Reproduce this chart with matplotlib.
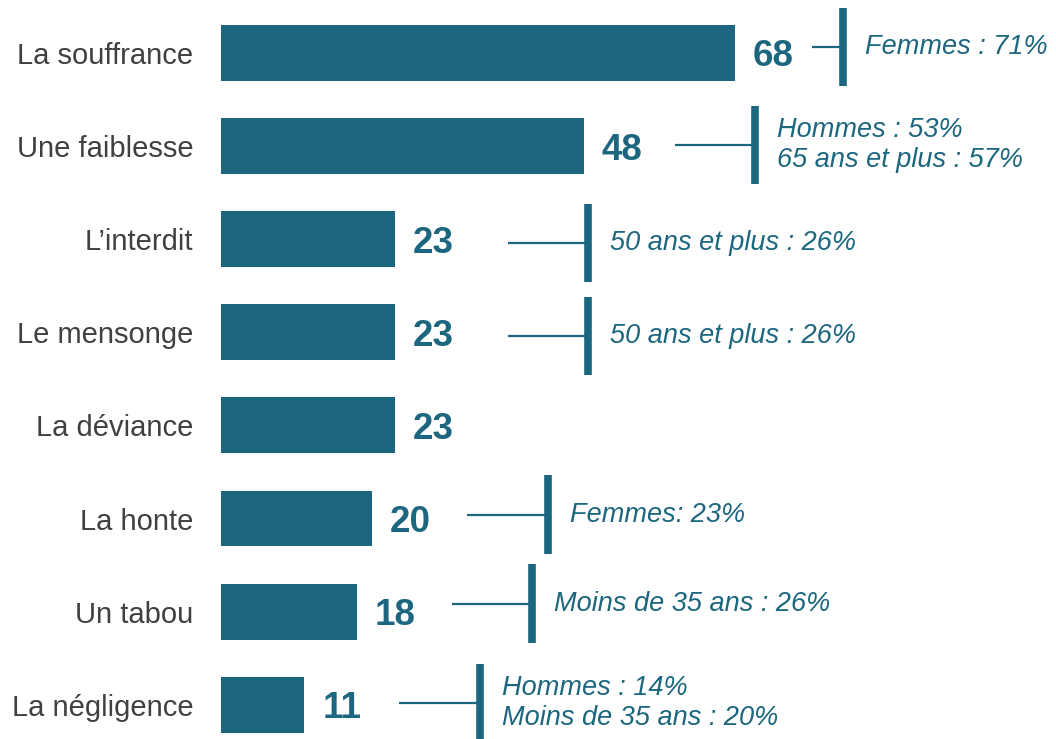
import matplotlib
matplotlib.use("Agg")
import matplotlib.pyplot as plt
from matplotlib import font_manager as fm

categories = ["La souffrance", "Une faiblesse", "L\u2019interdit", "Le mensonge",
              "La déviance", "La honte", "Un tabou", "La négligence"]
values = [68, 48, 23, 23, 23, 20, 18, 11]
notes = ["Femmes : 71%",
         "Hommes : 53%\n65 ans et plus : 57%",
         "50 ans et plus : 26%",
         "50 ans et plus : 26%",
         "",
         "Femmes: 23%",
         "Moins de 35 ans : 26%",
         "Hommes : 14%\nMoins de 35 ans : 20%"]

# layout (styling): gap from bar end to vertical marker, stub length (data units),
# and small vertical nudge of each note group (pixels)
note_gap = [14.3, 22.6, 25.5, 25.5, 0, 23.2, 23.2, 23.2]
stub_len = [4.1, 10.6, 10.6, 10.6, 0, 10.6, 10.6, 10.6]
note_dy = [-6, -1, 4, 4, 0, -4, -8, -2]

color = "#1C677F"
label_color = "#404040"
plt.rcParams["font.family"] = ["Liberation Sans", "DejaVu Sans"]


def find_font(weight, style):
    for f in fm.fontManager.ttflist:
        if (f.name == "Liberation Sans" and "Narrow" not in f.fname
                and f.style == style
                and (f.weight in ("bold", 700)) == (weight == "bold")):
            return fm.FontProperties(fname=f.fname)
    return fm.FontProperties(family="Liberation Sans", weight=weight, style=style)


bold_fp = find_font("bold", "normal")
ital_fp = find_font("normal", "italic")

W, H = 1056, 739
fig = plt.figure(figsize=(W / 100, H / 100), dpi=100)
ax = fig.add_axes([221 / W, 0, (W - 221) / W, 1])
px_per_unit = 7.56
step = 93.1
ax.set_xlim(0, (W - 221) / px_per_unit)
ax.set_ylim((H - 53) / step, -53 / step)

y = list(range(len(categories)))
ax.barh(y, values, height=0.6, color=color)

ax.set_yticks(y)
ax.set_yticklabels(categories, fontsize=21, color=label_color)
ax.tick_params(axis="y", length=0, pad=20)
ax.set_xticks([])
for s in ax.spines.values():
    s.set_visible(False)

for i, (v, note) in enumerate(zip(values, notes)):
    t = ax.annotate(str(v), (v, i), xytext=(18, 0), textcoords="offset pixels",
                    ha="left", va="center_baseline", color=color)
    t.set_fontproperties(bold_fp)
    t.set_fontsize(26.5)
    if note:
        vx = v + note_gap[i]
        yc = i + note_dy[i] / step
        ax.plot([vx - stub_len[i], vx], [yc, yc], color=color, lw=1.6,
                solid_capstyle="butt")
        ax.plot([vx, vx], [yc - 0.42, yc + 0.42], color=color, lw=5.5,
                solid_capstyle="butt")
        n = ax.annotate(note, (vx, yc), xytext=(22, 0), textcoords="offset pixels",
                        ha="left", va="center", color=color, linespacing=1.2)
        n.set_fontproperties(ital_fp)
        n.set_fontsize(19.5)

fig.savefig("out.png", dpi=100)
